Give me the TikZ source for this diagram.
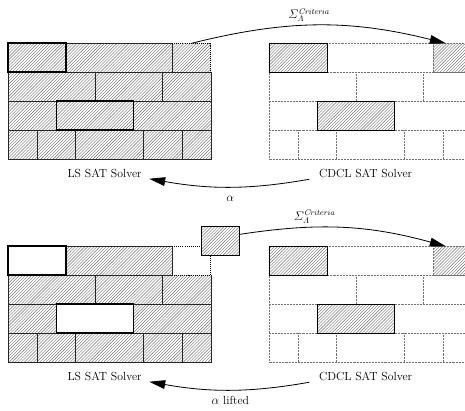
\documentclass[tikz,border=0pt]{standalone}
\usepackage{amsmath}
\usetikzlibrary{positioning, arrows.meta, patterns}

\begin{document}
\begin{tikzpicture}[
        hatch/.style={pattern=north east lines, pattern color=black!55},
        wall/.style={line width=0.6pt, draw=black!85},
        sel/.style={line width=1.6pt},
        gap/.style={densely dotted, line width=1pt},
        ghost/.style={densely dotted, line width=0.45pt, draw=black!55},
        slot/.style={minimum width=#1, minimum height=1cm,
            inner sep=0pt, outer sep=0pt},
        slot/.default=1.33cm,
        brick/.style={slot=#1, draw, line width=0.8pt, hatch},
        brick/.default=1.33cm,
        lbl/.style={font=\fontsize{11.5}{14}\selectfont},
        arr/.style={-{Triangle[length=5.5mm, width=3mm]}, thick},
        alab/.style={anchor=base, yshift=-14pt},
    ]

    \useasboundingbox (-0.276,-12.679) rectangle (15.759,1.493);
    \clip (-0.276,-12.679) rectangle (15.759,1.493);

    % =============================================
    % TOP: LS wall (left)
    % =============================================
    \fill[hatch] (0,0) rectangle (7,-4);
    \draw[wall] (5.67,0) -- (0,0) -- (0,-4) -- (7,-4) -- (7,-1);
    \foreach \y in {1,2,3}
        \draw[wall] (0,-\y) -- (7,-\y);
    \foreach \r/\xs in {0/{2,5.67}, 1/{3,5.33}, 2/{1.67,4.33}, 3/{1,2.33,4.67,6}}
        \foreach \x in \xs
            \draw[wall] (\x,-\r) -- (\x,-\r-1);
    \draw[sel] (0,0) rectangle (2,-1);
    \draw[sel] (1.67,-2) rectangle (4.33,-3);

    \node[slot] (lsfree) at (6.33,-0.5) {};
    \draw[gap] (lsfree.north west) -- (lsfree.north east) -- (lsfree.south east);

    % =============================================
    % TOP: CDCL wall (right)
    % =============================================
    \begin{scope}[xshift=9cm]
        \draw[ghost] (0,0) rectangle (7,-4);
        \foreach \y in {1,2,3}
            \draw[ghost] (0,-\y) -- (7,-\y);
        \foreach \r/\xs in {0/{2,5.67}, 1/{3,5.33}, 2/{1.67,4.33}, 3/{1,2.33,4.67,6}}
            \foreach \x in \xs
                \draw[ghost] (\x,-\r) -- (\x,-\r-1);
        \node[brick=2cm]    (cdsela) at (1,-0.5) {};
        \node[brick=2.66cm] (cdselb) at (3,-2.5) {};
        \node[brick, draw=none] (cdfree) at (6.33,-0.5) {};
        \draw[ghost] (cdfree.north west) rectangle (cdfree.south east);
    \end{scope}

    \node[lbl] (lsa)   at (3.33,-4.5)  {LS SAT Solver};
    \node[lbl] (cdcla) at (12.33,-4.5) {CDCL SAT Solver};

    \draw[arr] (lsfree.north) to[bend left=14]
        node[lbl, above, pos=0.46] {$\varSigma_{\varLambda}^{\mathit{Criteria}}$} (cdfree.115);
    \draw[arr, shorten <=6pt, shorten >=4pt] (cdcla.185) to[bend left=10]
        node[lbl, alab] {$\alpha$} (lsa.354);

    % =============================================
    % BOTTOM: LS wall (left), brick lifted out
    % =============================================
    \begin{scope}[yshift=-7cm]
        \fill[hatch] (0,0) rectangle (7,-4);
        \fill[white] (0,0) rectangle (2,-1);
        \fill[white] (5.67,0) rectangle (7,-1);
        \fill[white] (1.67,-2) rectangle (4.33,-3);
        \draw[wall] (5.67,0) -- (0,0) -- (0,-4) -- (7,-4) -- (7,-1);
        \draw[wall] (0,-1) -- (5.67,-1);
        \foreach \y in {2,3}
            \draw[wall] (0,-\y) -- (7,-\y);
        \foreach \r/\xs in {0/{2,5.67}, 1/{3,5.33}, 2/{1.67,4.33}, 3/{1,2.33,4.67,6}}
            \foreach \x in \xs
                \draw[wall] (\x,-\r) -- (\x,-\r-1);
        \draw[sel] (0,0) rectangle (2,-1);
        \draw[sel] (1.67,-2) rectangle (4.33,-3);

        \node[slot]  (lsslot) at (6.33,-0.5) {};
        \node[brick] (lslift) at (7.33,0.17) {};
        \draw[gap] (lsslot.north west) -- (lsslot.north west -| lslift.west);
        \draw[gap] (lsslot.north east |- lslift.south) -- (lsslot.south east)
            -- (lsslot.south west);
    \end{scope}

    % =============================================
    % BOTTOM: CDCL wall (right)
    % =============================================
    \begin{scope}[xshift=9cm, yshift=-7cm]
        \draw[ghost] (0,0) rectangle (7,-4);
        \foreach \y in {1,2,3}
            \draw[ghost] (0,-\y) -- (7,-\y);
        \foreach \r/\xs in {0/{2,5.67}, 1/{3,5.33}, 2/{1.67,4.33}, 3/{1,2.33,4.67,6}}
            \foreach \x in \xs
                \draw[ghost] (\x,-\r) -- (\x,-\r-1);
        \node[brick=2cm]    (cdselc) at (1,-0.5) {};
        \node[brick=2.66cm] (cdseld) at (3,-2.5) {};
        \node[brick, draw=none] (cdfreeb) at (6.33,-0.5) {};
        \draw[ghost] (cdfreeb.north west) rectangle (cdfreeb.south east);
    \end{scope}

    \node[lbl] (lsb)   at (3.33,-11.5)  {LS SAT Solver};
    \node[lbl] (cdclb) at (12.33,-11.5) {CDCL SAT Solver};

    \draw[arr] (lslift.20) to[bend left=12]
        node[lbl, above, pos=0.35] {$\varSigma_{\varLambda}^{\mathit{Criteria}}$} (cdfreeb.115);
    \draw[arr, shorten <=6pt, shorten >=4pt] (cdclb.185) to[bend left=10]
        node[lbl, alab] {$\alpha$ lifted} (lsb.354);

\end{tikzpicture}
\end{document}
